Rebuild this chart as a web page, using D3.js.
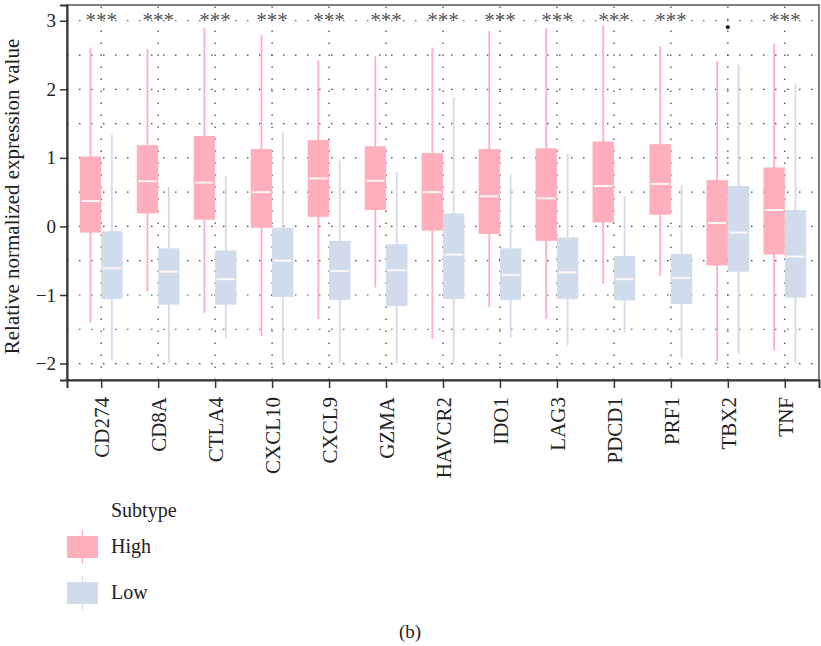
<!DOCTYPE html>
<html>
<head>
<meta charset="utf-8">
<script src="https://cdn.jsdelivr.net/npm/d3@7"></script>
<style>
  html, body { margin: 0; padding: 0; background: #fff; }
  svg { display: block; }
  text { font-family: "Liberation Serif", "Times New Roman", serif; }
</style>
</head>
<body>
<svg id="chart" width="821" height="646"></svg>
<script>
// ---- data ----
const genes = ["CD274","CD8A","CTLA4","CXCL10","CXCL9","GZMA","HAVCR2","IDO1","LAG3","PDCD1","PRF1","TBX2","TNF"];
const subtypes = ["High", "Low"];
// [lower whisker, Q1, median, Q3, upper whisker]
const highStats = [
  [-1.40, -0.09, 0.37, 1.02, 2.61],
  [-0.95,  0.19, 0.66, 1.185, 2.59],
  [-1.26,  0.10, 0.64, 1.32, 2.90],
  [-1.60, -0.02, 0.50, 1.13, 2.79],
  [-1.35,  0.14, 0.70, 1.26, 2.42],
  [-0.89,  0.24, 0.665, 1.17, 2.48],
  [-1.64, -0.06, 0.50, 1.07, 2.61],
  [-1.18, -0.11, 0.44, 1.13, 2.85],
  [-1.35, -0.21, 0.41, 1.14, 2.89],
  [-0.84,  0.06, 0.59, 1.24, 2.93],
  [-0.72,  0.17, 0.62, 1.20, 2.63],
  [-1.97, -0.57, 0.05, 0.675, 2.41],
  [-1.81, -0.41, 0.24, 0.86, 2.67]
];
const lowStats = [
  [-1.95, -1.06, -0.61, -0.07, 1.34],
  [-1.99, -1.14, -0.66, -0.32, 0.58],
  [-1.63, -1.14, -0.77, -0.35, 0.73],
  [-1.99, -1.03, -0.50, -0.02, 1.37],
  [-1.99, -1.07, -0.65, -0.21, 0.96],
  [-1.99, -1.16, -0.64, -0.26, 0.79],
  [-1.99, -1.06, -0.41,  0.19, 1.885],
  [-1.62, -1.07, -0.71, -0.32, 0.76],
  [-1.74, -1.06, -0.67, -0.16, 1.06],
  [-1.55, -1.08, -0.77, -0.43, 0.44],
  [-1.92, -1.13, -0.75, -0.40, 0.60],
  [-1.86, -0.66, -0.09,  0.59, 2.36],
  [-1.99, -1.04, -0.44,  0.24, 2.07]
];
const signif = ["***","***","***","***","***","***","***","***","***","***","***",".","***"];
const yTicks = [-2, -1, 0, 1, 2, 3];
const yGrid = [-2, -1.5, -1, -0.5, 0, 0.5, 1, 1.5, 2, 2.5, 3];
const yTitle = "Relative normalized expression value";
const legendTitle = "Subtype";
const panelLabel = "(b)";

// ---- layout ----
const colors = { High: "#FFAEBB", Low: "#D0DCEC" };
const panel = { left: 67, right: 819, top: 5, bottom: 380 };

const svg = d3.select("#chart");

const x = d3.scalePoint()
  .domain(genes)
  .range([panel.left, panel.right])
  .padding(0.6);
const step = x.step();
const dodge = d3.scaleBand()
  .domain(subtypes)
  .range([-step * 0.375, step * 0.375]);

const y = d3.scaleLinear()
  .domain([-2.24, 3.23])
  .range([panel.bottom, panel.top]);

// grid (dotted)
const grid = svg.append("g");
grid.selectAll("line.h").data(yGrid).join("line")
  .attr("x1", panel.left).attr("x2", panel.right)
  .attr("y1", d => y(d)).attr("y2", d => y(d))
  .attr("stroke", "#444").attr("stroke-width", 1.2)
  .attr("stroke-dasharray", "1.5,10.5");
grid.selectAll("line.v").data(genes).join("line")
  .attr("x1", d => x(d)).attr("x2", d => x(d))
  .attr("y1", panel.bottom).attr("y2", panel.top)
  .attr("stroke", "#444").attr("stroke-width", 1.2)
  .attr("stroke-dasharray", "1.5,10.5");

// boxes
const boxData = [];
genes.forEach((g, i) => {
  boxData.push({ gene: g, sub: "High", s: highStats[i] });
  boxData.push({ gene: g, sub: "Low", s: lowStats[i] });
});
const bw = dodge.bandwidth();
const boxes = svg.append("g").selectAll("g").data(boxData).join("g")
  .attr("transform", d => `translate(${x(d.gene) + dodge(d.sub)},0)`);
boxes.append("line")
  .attr("x1", bw / 2).attr("x2", bw / 2)
  .attr("y1", d => y(d.s[0])).attr("y2", d => y(d.s[4]))
  .attr("stroke", d => colors[d.sub]).attr("stroke-width", 1.8);
boxes.append("rect")
  .attr("x", 0).attr("width", bw)
  .attr("y", d => y(d.s[3]))
  .attr("height", d => y(d.s[1]) - y(d.s[3]))
  .attr("fill", d => colors[d.sub]);
boxes.append("line")
  .attr("x1", 1.5).attr("x2", bw - 1.5)
  .attr("y1", d => y(d.s[2])).attr("y2", d => y(d.s[2]))
  .attr("stroke", "#FFF6F6").attr("stroke-width", 2);

// significance labels
svg.append("g").selectAll("text").data(genes).join("text")
  .attr("x", d => x(d))
  .attr("y", (d, i) => signif[i] === "." ? 29 : 27)
  .attr("text-anchor", "middle")
  .attr("font-size", (d, i) => signif[i] === "." ? 24 : 21)
  .attr("font-weight", (d, i) => signif[i] === "." ? "bold" : "normal")
  .attr("fill", (d, i) => signif[i] === "." ? "#000" : "#555")
  .text((d, i) => signif[i]);

// panel border
svg.append("rect")
  .attr("x", panel.left).attr("y", panel.top)
  .attr("width", panel.right - panel.left).attr("height", panel.bottom - panel.top)
  .attr("fill", "none").attr("stroke", "#555").attr("stroke-width", 1.5);

// y axis
const yAxis = svg.append("g")
  .attr("transform", `translate(${panel.left},0)`)
  .call(d3.axisLeft(y).tickValues(yTicks).tickSize(7).tickPadding(4)
    .tickFormat(d => d < 0 ? "\u2212" + Math.abs(d) : String(d)));
yAxis.select(".domain").attr("stroke", "#333").attr("stroke-width", 2);
yAxis.selectAll(".tick line").attr("stroke", "#333").attr("stroke-width", 1.5);
yAxis.selectAll(".tick text")
  .attr("font-family", "Liberation Serif").attr("font-size", 19).attr("fill", "#222");

// x axis
const xAxis = svg.append("g")
  .attr("transform", `translate(0,${panel.bottom})`)
  .call(d3.axisBottom(x).tickSize(8).tickPadding(0));
xAxis.select(".domain").attr("stroke", "#333").attr("stroke-width", 2);
xAxis.selectAll(".tick line").attr("stroke", "#333").attr("stroke-width", 1.5);
xAxis.selectAll(".tick text")
  .attr("font-family", "Liberation Serif").attr("font-size", 21).attr("fill", "#222")
  .attr("transform", "rotate(-90)")
  .attr("text-anchor", "end")
  .attr("x", -17).attr("y", 0).attr("dy", "0.35em");

// y title
svg.append("text")
  .attr("transform", `translate(19,${(panel.top + panel.bottom) / 2 + 4}) rotate(-90)`)
  .attr("text-anchor", "middle")
  .attr("font-size", 21).attr("fill", "#222")
  .text(yTitle);

// legend
const legend = svg.append("g");
legend.append("text").attr("x", 111).attr("y", 517)
  .attr("font-size", 20).attr("fill", "#222").text(legendTitle);
const legRows = legend.selectAll("g.row").data(subtypes).join("g")
  .attr("transform", (d, i) => `translate(0,${536 + i * 46})`);
legRows.append("line")
  .attr("x1", 82.5).attr("x2", 82.5).attr("y1", -6).attr("y2", 28)
  .attr("stroke", d => colors[d]).attr("stroke-width", 1.2);
legRows.append("rect")
  .attr("x", 67).attr("y", 0).attr("width", 31).attr("height", 22)
  .attr("fill", d => colors[d]);
legRows.append("text")
  .attr("x", 111).attr("y", 17)
  .attr("font-size", 20).attr("fill", "#222").text(d => d);

// panel label
svg.append("text").attr("x", 410).attr("y", 638)
  .attr("text-anchor", "middle").attr("font-size", 19).attr("fill", "#222")
  .text(panelLabel);
</script>
</body>
</html>
